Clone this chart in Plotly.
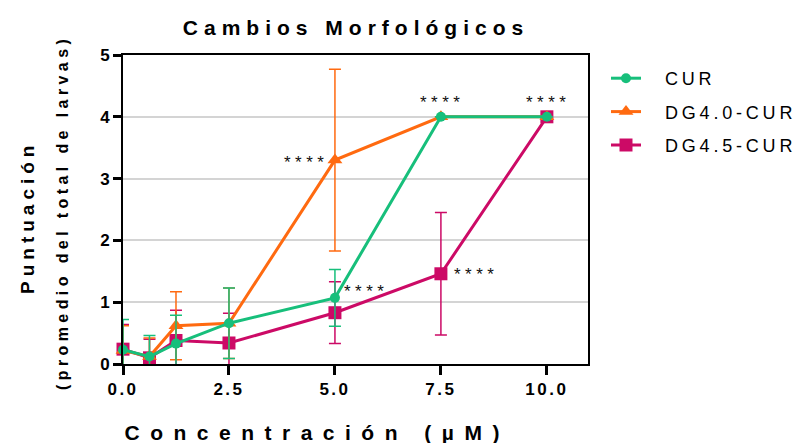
import plotly.graph_objects as go

conc = [0, 0.625, 1.25, 2.5, 5, 7.5, 10]
series_names = ["CUR", "DG4.0-CUR", "DG4.5-CUR"]
cur_mean = [0.23, 0.12, 0.33, 0.66, 1.07, 4.0, 4.0]
cur_err = [0.49, 0.34, 0.46, 0.57, 0.46, 0.0, 0.0]
dg40_mean = [0.22, 0.12, 0.62, 0.66, 3.30, 4.0, 4.0]
dg40_err = [0.40, 0.30, 0.55, 0.57, 1.47, 0.0, 0.0]
dg45_mean = [0.24, 0.10, 0.38, 0.34, 0.83, 1.46, 4.0]
dg45_err = [0.40, 0.30, 0.49, 0.48, 0.50, 0.99, 0.0]
x_ticks = [0, 2.5, 5, 7.5, 10]
x_tick_labels = ["0.0", "2.5", "5.0", "7.5", "10.0"]
y_ticks = [0, 1, 2, 3, 4, 5]

colors = ["#17BF7B", "#FF6A10", "#CC0A66"]
symbols = ["circle", "triangle-up", "square"]
sizes = [10, 13, 13]
FONT = "Liberation Sans, Arial"

W, H = 798, 443
L, R, T, B = 123, 210, 55, 79
PW, PH = W - L - R, H - T - B


def px(xp):
    return (xp - L) / PW


def py(yp):
    return (H - B - yp) / PH


fig = go.Figure()
data = [(dg45_mean, dg45_err, 2), (dg40_mean, dg40_err, 1), (cur_mean, cur_err, 0)]
for means, errs, i in data:
    fig.add_trace(go.Scatter(
        x=conc, y=means, name=series_names[i], mode="lines+markers",
        legendgroup=series_names[i], legendrank=i + 1, cliponaxis=False,
        line=dict(color=colors[i], width=3),
        marker=dict(symbol=symbols[i], size=sizes[i], color=colors[i]),
        error_y=dict(type="data", array=errs, visible=True, color=colors[i],
                     thickness=1.5, width=6),
    ))

annots = [
    (5, 3.30, "****", "right", -13, -2),
    (7.5, 4.0, "****", "center", 2, 14),
    (10, 4.0, "****", "center", 2, 14),
    (5, 1.07, "****", "left", 16, 6),
    (7.5, 1.46, "****", "left", 20, -1),
]
for x, y, txt, anc, ax, ay in annots:
    fig.add_annotation(x=x, y=y, text=txt, showarrow=False, xanchor=anc,
                       xshift=ax, yshift=ay,
                       font=dict(family=FONT, size=17, color="#111"))

# axis titles as annotations
fig.add_annotation(text="<b>Concentración (µM)</b>", xref="paper", yref="paper",
                   x=px(317), y=py(433), showarrow=False,
                   xanchor="center", yanchor="middle",
                   font=dict(family=FONT, size=21, color="black"))
fig.add_annotation(text="<b>Puntuación</b>", xref="paper", yref="paper",
                   x=px(27), y=py(218), showarrow=False,
                   textangle=-90, xanchor="center", yanchor="middle",
                   font=dict(family=FONT, size=19, color="black"))
fig.add_annotation(text="<b>(promedio del total de larvas)</b>", xref="paper", yref="paper",
                   x=px(63), y=py(213), showarrow=False,
                   textangle=-90, xanchor="center", yanchor="middle",
                   font=dict(family=FONT, size=16, color="black"))

fig.update_layout(
    width=W, height=H,
    paper_bgcolor="white", plot_bgcolor="white",
    margin=dict(l=L, r=R, t=T, b=B, autoexpand=False),
    title=dict(text="<b>Cambios Morfológicos</b>", x=356 / W, xanchor="center",
               xref="container", yref="container",
               y=1 - 28 / H, yanchor="middle",
               font=dict(family=FONT, size=21, color="black")),
    font=dict(family=FONT, color="black"),
    legend=dict(x=px(606), y=py(60), xanchor="left", yanchor="top",
                font=dict(size=18, color="black", family=FONT),
                tracegroupgap=7, traceorder="grouped"),
    showlegend=True,
)
fig.update_xaxes(
    range=[0, 10.97], tickvals=x_ticks, ticktext=x_tick_labels, automargin=False,
    showgrid=False, zeroline=False, showline=True, linecolor="black", linewidth=2,
    mirror=True,
    ticks="outside", ticklen=9, tickwidth=2.5, tickcolor="black",
    tickfont=dict(size=17, family=FONT, weight="bold"),
)
fig.update_yaxes(
    range=[0, 5], tickvals=y_ticks, automargin=False,
    showgrid=True, gridcolor="#d4d4d4", gridwidth=1.5, zeroline=False,
    showline=True, linecolor="black", linewidth=2, mirror=True,
    ticks="outside", ticklen=8, tickwidth=2.5, tickcolor="black",
    tickfont=dict(size=17, family=FONT, weight="bold"),
)

post = """
document.body.style.margin='0';
document.documentElement.style.margin='0';
function sp(sel, v){document.querySelectorAll(sel).forEach(function(e){e.style.letterSpacing=v;});}
sp('.gtitle', '6px');
sp('.xtick text', '2.5px');
document.querySelectorAll('.legend [clip-path]').forEach(function(e){e.removeAttribute('clip-path');});
document.querySelectorAll('.legendtext').forEach(function(e){
  e.style.letterSpacing='3.8px';
  e.setAttribute('x', parseFloat(e.getAttribute('x')||'40') + 19);
});
var anns = document.querySelectorAll('.annotation-text');
anns.forEach(function(e){
  var t = e.textContent;
  if (t.indexOf('****') >= 0) { e.style.letterSpacing = '4.5px'; }
  else if (t.indexOf('Concentr') >= 0) { e.style.letterSpacing = '10.5px'; }
  else if (t.indexOf('Puntuaci') >= 0) { e.style.letterSpacing = '5px'; }
  else if (t.indexOf('promedio') >= 0) { e.style.letterSpacing = '4.4px'; }
});
"""
fig.write_html("out.html", post_script=post, config={"displayModeBar": False})
